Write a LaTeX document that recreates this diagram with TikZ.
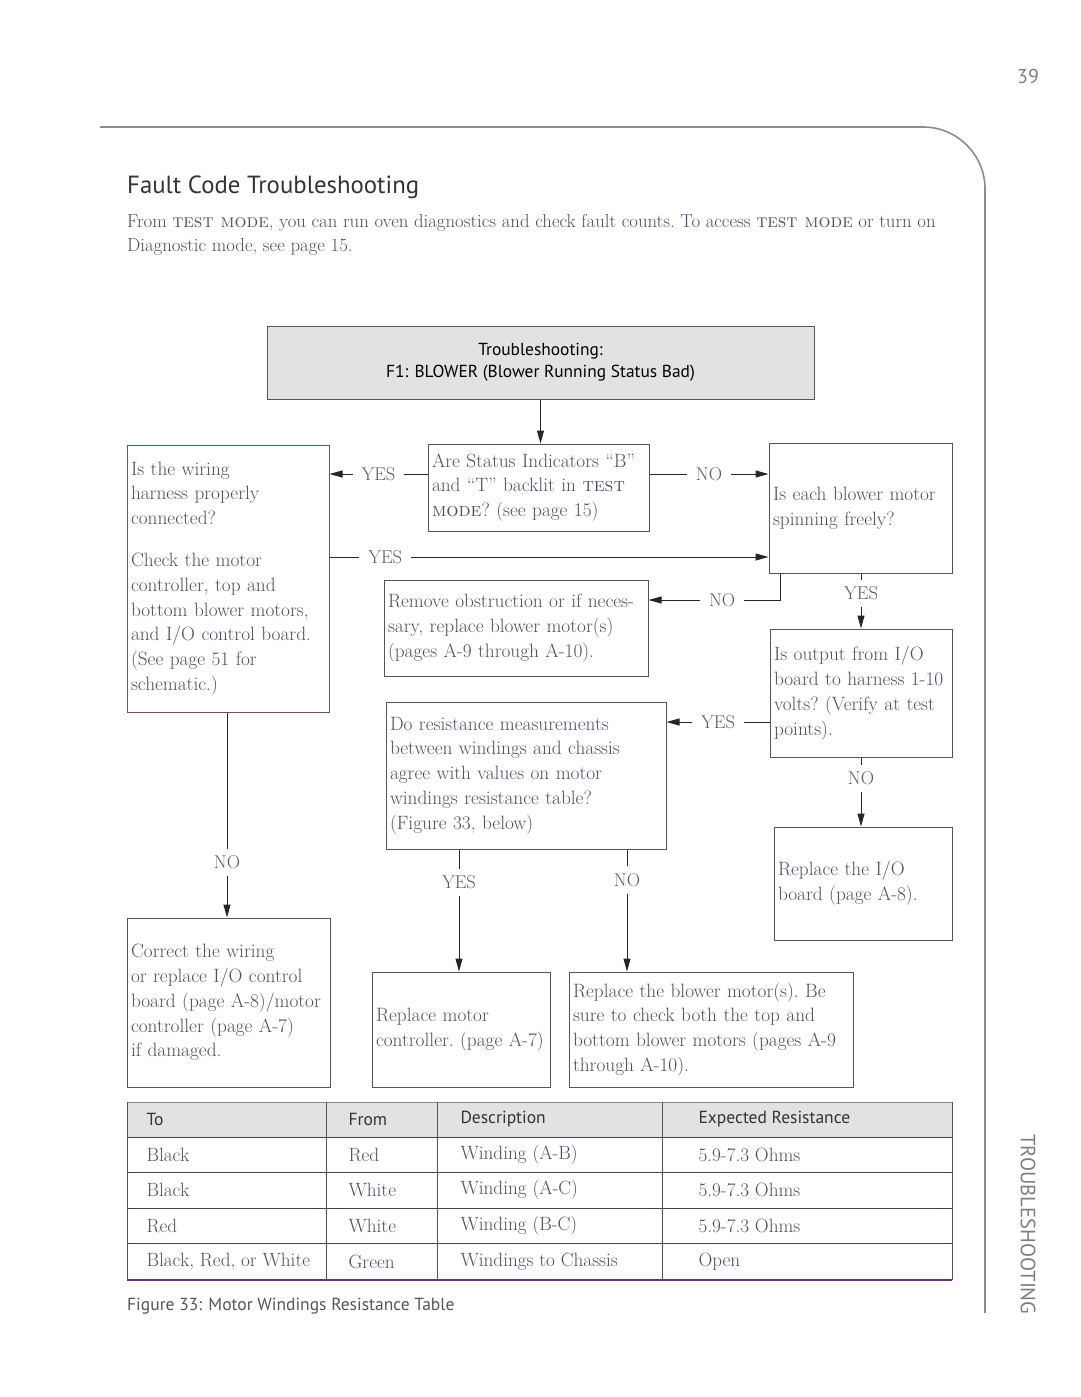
\documentclass[tikz,border=0pt]{standalone}
\usepackage{fontspec}
\setsansfont{PT Sans}
\usetikzlibrary{arrows.meta,calc}
\definecolor{txt}{HTML}{4E4E62}
\definecolor{lblc}{HTML}{5A5A5A}
\definecolor{boxc}{HTML}{555555}
\definecolor{redbox}{HTML}{7A5050}
\definecolor{pagec}{HTML}{8C8C8C}
\definecolor{hdrfill}{HTML}{E2E2E2}
\definecolor{tline}{HTML}{4A3D55}
\definecolor{titlec}{HTML}{333333}
\tikzset{
  fcbox/.style={draw=boxc, line width=1pt, rectangle, inner xsep=4pt, inner ysep=0pt,
    align=left, font=\fontsize{19.3}{24.8}\selectfont\frenchspacing, text=txt},
  conn/.style={draw=black!85, line width=1pt, -{Triangle[length=13pt,width=7pt]}},
  lbl/.style={fill=white, inner xsep=9pt, inner ysep=7pt, font=\fontsize{18.5}{20}\selectfont, text=lblc},
  tsans/.style={font=\sffamily\fontsize{17.5}{19}\selectfont, text=titlec, anchor=west},
  tserif/.style={font=\fontsize{19.2}{20}\selectfont, text=txt, anchor=west},
}
\begin{document}
\begin{tikzpicture}[x=1pt,y=-1pt]
\useasboundingbox (0,0) rectangle (1080,1397);
% page frame
\draw[pagec, line width=1.6pt, rounded corners=62pt] (100,127) -- (985,127) -- (985,1313);
\node[font=\sffamily\fontsize{20}{22}\selectfont, text=pagec!90!black] (pnum) at (1028,77) {39};
\node[rotate=-90, anchor=west, font=\sffamily\fontsize{20.6}{22}\selectfont, text=pagec!90!black] (side) at (1028,1131) {TROUBLESHOOTING};
% title and intro
\node[anchor=base west, inner sep=0pt, font=\sffamily\fontsize{24.8}{28}\selectfont, text=titlec] (title) at (127,193) {Fault Code Troubleshooting};
\node[anchor=base west, inner sep=0pt, font=\fontsize{18.75}{24.5}\selectfont\frenchspacing, text=txt] (intro1) at (127,227)
  {From \textsc{test mode}, you can run oven diagnostics and check fault counts. To access \textsc{test mode} or turn on};
\node[anchor=base west, inner sep=0pt, font=\fontsize{18.75}{24.5}\selectfont\frenchspacing, text=txt] (intro2) at (127,251)
  {Diagnostic mode, see page 15.};
% header
\node[draw=boxc, line width=1pt, fill=hdrfill, minimum width=547pt, minimum height=73pt, align=center,
  font=\sffamily\fontsize{17.4}{22}\selectfont, text=black] (hdr) at (540.5,362.5)
  {Troubleshooting:\\F1: BLOWER (Blower Running Status Bad)};
% boxes
\node[fcbox, draw=redbox, minimum width=202pt, text width=194pt, minimum height=267pt] (A) at (228,578.5)
  {Is the wiring\\harness properly\\connected?\\[17pt]Check the motor\\controller, top and\\bottom blower motors,\\and I/O control board.\\(See page 51 for\\schematic.)};
\node[fcbox, minimum width=221pt, text width=213pt, minimum height=87pt] (B) at (538.5,487.5)
  {Are Status Indicators ``B''\\and ``T'' backlit in \textsc{test}\\\textsc{mode}? (see page 15)};
\node[fcbox, minimum width=183pt, text width=175pt, minimum height=130pt] (C) at (860.5,508)
  {Is each blower motor\\spinning freely?};
\node[fcbox, minimum width=264pt, text width=256pt, minimum height=96pt] (D) at (516,628)
  {Remove obstruction or if neces-\\sary, replace blower motor(s)\\(pages A-9 through A-10).};
\node[fcbox, minimum width=182pt, text width=174pt, minimum height=128pt] (E) at (861,693)
  {Is output from I/O\\board to harness 1-10\\volts? (Verify at test\\points).};
\node[fcbox, minimum width=280pt, text width=272pt, minimum height=147pt] (F) at (526,775.5)
  {Do resistance measurements\\between windings and chassis\\agree with values on motor\\windings resistance table?\\(Figure 33, below)};
\node[fcbox, minimum width=178pt, text width=170pt, minimum height=113pt] (G) at (863,883.5)
  {Replace the I/O\\board (page A-8).};
\node[fcbox, minimum width=203pt, text width=195pt, minimum height=169pt] (H) at (228.5,1002.5)
  {Correct the wiring\\or replace I/O control\\board (page A-8)/motor\\controller (page A-7)\\if damaged.};
\node[fcbox, minimum width=178pt, text width=170pt, minimum height=115pt] (I) at (461,1029.5)
  {Replace motor\\controller. (page A-7)};
\node[fcbox, minimum width=284pt, text width=276pt, minimum height=115pt] (J) at (711,1029.5)
  {Replace the blower motor(s). Be\\sure to check both the top and\\bottom blower motors (pages A-9\\through A-10).};
% helper coordinates
\coordinate (y474) at (0,474);
\coordinate (y557) at (0,557);
\coordinate (y600) at (0,600);
\coordinate (y722) at (0,722);
\coordinate (x780) at (780,0);
\coordinate (x861) at (861,0);
\coordinate (x459) at (459,0);
\coordinate (x627) at (627,0);
\coordinate (x227) at (227,0);
% connectors
\draw[conn] (hdr.south) -- (hdr.south |- B.north);
\draw[conn] (B.west |- y474) -- node[lbl]{YES} (A.east |- y474);
\draw[conn] (B.east |- y474) -- node[lbl]{NO} (C.west |- y474);
\draw[conn] (A.east |- y557) -- node[lbl, pos=0.127]{YES} (C.west |- y557);
\draw[conn] (x780 |- C.south) -- (x780 |- y600) -- node[lbl, pos=0.44]{NO} (D.east |- y600);
\draw[conn] (x861 |- C.south) -- node[lbl, pos=0.36]{YES} (x861 |- E.north);
\draw[conn] (E.west |- y722) -- node[lbl]{YES} (F.east |- y722);
\draw[conn] (x861 |- E.south) -- node[lbl, pos=0.3]{NO} (x861 |- G.north);
\draw[conn] (x459 |- F.south) -- node[lbl, pos=0.27]{YES} (x459 |- I.north);
\draw[conn] (x627 |- F.south) -- node[lbl, pos=0.25]{NO} (x627 |- J.north);
\draw[conn] (x227 |- A.south) -- node[lbl, pos=0.73]{NO} (x227 |- H.north);
% table
\fill[hdrfill] (127,1102) rectangle (952,1137);
\draw[boxc!70, line width=1pt] (127,1102) -- (952,1102);
\draw[tline, line width=1pt] (127,1137) -- (952,1137) (127,1172) -- (952,1172) (127,1208) -- (952,1208) (127,1243) -- (952,1243);
\draw[tline!80!magenta, line width=1.2pt] (127,1280) -- (952,1280);
\draw[boxc, line width=1pt] (127,1102) -- (127,1280) (326,1102) -- (326,1280) (437,1102) -- (437,1280) (662,1102) -- (662,1280) (952,1102) -- (952,1280);
\node[tsans] (h1) at (143,1119.5) {To};
\node[tsans] (h2) at (345,1119.5) {From};
\node[tsans] (h3) at (457,1119.5) {Description};
\node[tsans] (h4) at (695,1119.5) {Expected Resistance};
\node[tserif] (r11) at (143,1154.5) {Black};
\node[tserif] (r12) at (345,1154.5) {Red};
\node[tserif] (r13) at (457,1154.5) {Winding (A-B)};
\node[tserif] (r14) at (695,1154.5) {5.9-7.3 Ohms};
\node[tserif] (r21) at (143,1190) {Black};
\node[tserif] (r22) at (345,1190) {White};
\node[tserif] (r23) at (457,1190) {Winding (A-C)};
\node[tserif] (r24) at (695,1190) {5.9-7.3 Ohms};
\node[tserif] (r31) at (143,1225.5) {Red};
\node[tserif] (r32) at (345,1225.5) {White};
\node[tserif] (r33) at (457,1225.5) {Winding (B-C)};
\node[tserif] (r34) at (695,1225.5) {5.9-7.3 Ohms};
\node[tserif] (r41) at (143,1261.5) {Black, Red, or White};
\node[tserif] (r42) at (345,1261.5) {Green};
\node[tserif] (r43) at (457,1261.5) {Windings to Chassis};
\node[tserif] (r44) at (695,1261.5) {Open};
\node[anchor=base west, inner sep=0pt, font=\sffamily\fontsize{17.5}{19}\selectfont, text=boxc] (cap) at (127,1310) {Figure 33: Motor Windings Resistance Table};
\end{tikzpicture}
\end{document}
